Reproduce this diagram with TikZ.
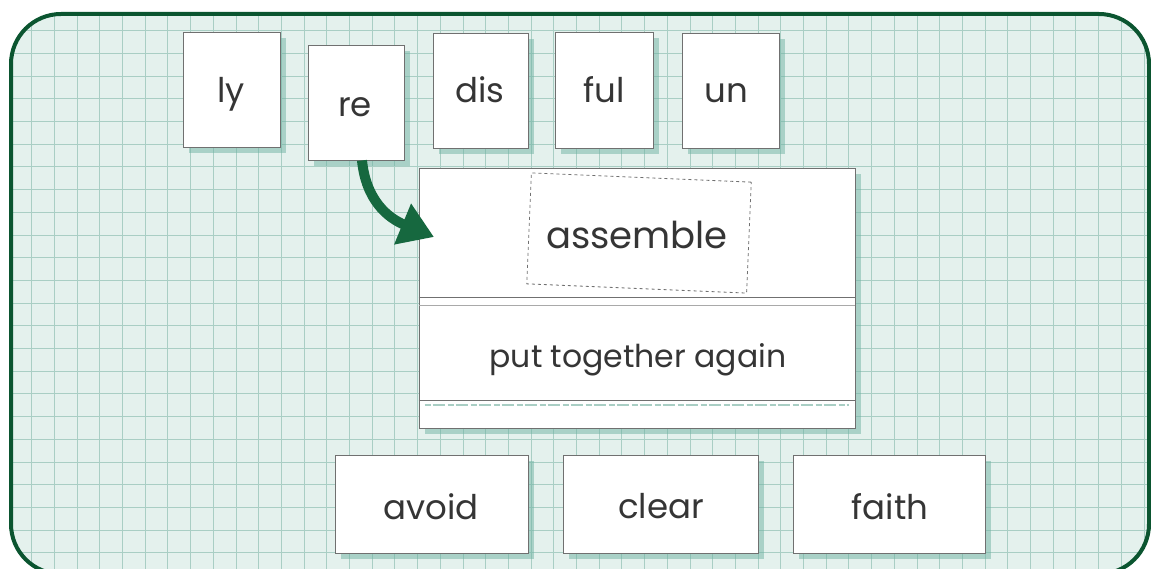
\documentclass[tikz,border=0pt]{standalone}
\usepackage{fontspec}
\setmainfont{Poppins}
\usetikzlibrary{arrows.meta,shadows}
\definecolor{bgmint}{HTML}{E4F1ED}
\definecolor{gridc}{HTML}{A9CEC4}
\definecolor{borderg}{HTML}{0B5530}
\definecolor{arrowg}{HTML}{16683F}
\definecolor{cardline}{HTML}{707070}
\definecolor{shadowc}{HTML}{6FB3A3}
\definecolor{ink}{HTML}{353535}
\tikzset{
  gridline/.style={draw=gridc, line width=0.9pt},
  card/.style={draw=cardline, line width=0.9pt, fill=white, inner sep=0pt,
    drop shadow={shadow xshift=6pt, shadow yshift=-6pt, fill=shadowc, opacity=0.5}},
  word/.style={text=ink, font=\fontsize{34}{40}\selectfont, inner sep=0pt, anchor=base},
  bigword/.style={text=ink, font=\fontsize{37}{44}\selectfont, inner sep=0pt, anchor=base},
  defword/.style={text=ink, font=\fontsize{31.5}{38}\selectfont, inner sep=0pt, anchor=base},
  sepline/.style={draw=cardline, line width=1pt},
  arrowst/.style={draw=arrowg, line width=10pt, -{Triangle[length=34pt,width=42pt]}}
}
\begin{document}
\begin{tikzpicture}[x=1pt,y=-1pt]
\useasboundingbox (0,0) rectangle (1151,569);
% background panel
\fill[white] (0,0) rectangle (1151,569);
\fill[bgmint, rounded corners=50pt] (11,14) rectangle (1149,574);
\begin{scope}
  \clip[rounded corners=50pt] (11,14) rectangle (1149,574);
  \foreach \i in {0,...,50} \draw[gridline] ({9+22.7*\i},0) -- ({9+22.7*\i},569);
  \foreach \j in {0,...,25} \draw[gridline] (0,{8+22.7*\j}) -- (1151,{8+22.7*\j});
\end{scope}
\draw[borderg, line width=4pt, rounded corners=50pt] (11,14) rectangle (1149,574);

% top row of affix cards
\node[card, minimum width=97pt, minimum height=115pt] (ly)  at (231.5,89.5) {};
\node[card, minimum width=96pt, minimum height=115pt] (re)  at (356,102.5) {};
\node[card, minimum width=95pt, minimum height=115pt] (dis) at (480.5,90.5) {};
\node[card, minimum width=98pt, minimum height=116pt] (ful) at (604,90) {};
\node[card, minimum width=97pt, minimum height=115pt] (un)  at (730.5,90.5) {};
\node[word] (lyt)  at (231,103) {ly};
\node[word] (ret)  at (355,117) {re};
\node[word] (dist) at (480,103) {dis};
\node[word] (fult) at (604,103) {ful};
\node[word] (unt)  at (726,103) {un};

% main card
\node[card, minimum width=436pt, minimum height=260pt] (main) at (637,298) {};
\draw[sepline] (main.west |- 0,298) coordinate (s1a) -- (main.east |- 0,298) coordinate (s1b);
\draw[draw=cardline!60, line width=0.8pt] (main.west |- 0,305) coordinate (s2a) -- (main.east |- 0,305) coordinate (s2b);
\draw[sepline] (main.west |- 0,400) coordinate (s3a) -- (main.east |- 0,400) coordinate (s3b);
\draw[draw=gridc, line width=1.5pt, dash pattern=on 6pt off 2pt on 12pt off 3pt] ([xshift=6pt]main.west |- 0,405) coordinate (s4a) -- ([xshift=-6pt]main.east |- 0,405) coordinate (s4b);
\node[draw=cardline, line width=0.8pt, dashed, rotate=-2.4, minimum width=220pt, minimum height=111pt, inner sep=0pt] (asm) at (639,233) {};
\node[bigword] (asmt) at (637,249) {assemble};
\node[defword] (deft) at (638,367) {put together again};

% arrow from re to the main card
\coordinate (tip) at (434,237);
\draw[arrowst] ([xshift=6pt]re.south) .. controls +(4,40) and (388,218) .. (tip);

% bottom row of word cards
\node[card, minimum width=193pt, minimum height=98pt] (avoid) at (431.5,504) {};
\node[card, minimum width=195pt, minimum height=98pt] (clear) at (660.5,504) {};
\node[card, minimum width=192pt, minimum height=98pt] (faith) at (889,504) {};
\node[word] (avoidt) at (431,519) {avoid};
\node[word] (cleart) at (661,518) {clear};
\node[word] (faitht) at (890,519) {faith};
\end{tikzpicture}
\end{document}
